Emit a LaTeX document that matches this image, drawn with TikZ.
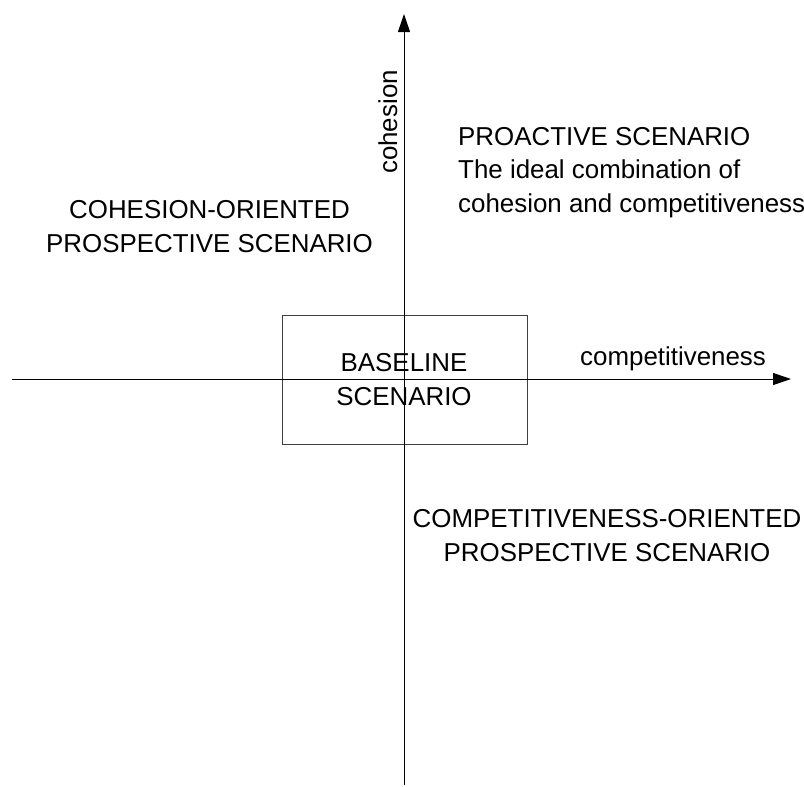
\documentclass[tikz,border=0pt]{standalone}
\usepackage{fontspec}
\setmainfont{Liberation Sans}
\usetikzlibrary{arrows.meta}
\tikzset{
  axis/.style={line width=1pt, black, -{Triangle[length=18pt,width=12pt]}},
  basebox/.style={draw=black!75, line width=1pt, fill=none},
  lbl/.style={inner sep=0pt, font=\fontsize{25.9}{33.5}\selectfont},
}
\begin{document}
\begin{tikzpicture}[x=1pt,y=1pt]
\useasboundingbox (0,0) rectangle (804,-787);
\coordinate (ybot) at (404,-785);
\coordinate (ytop) at (404,-14);
\coordinate (xleft) at (12,-379);
\coordinate (xright) at (791,-379);
\node[basebox, minimum width=245pt, minimum height=129pt, inner sep=0pt] (base) at (404.5,-379.5) {};
\draw[axis] (ybot) -- (ytop);
\draw[axis] (xleft) -- (xright);
\node[lbl, anchor=base, align=center] (baselbl) at (404,-405) {BASELINE\\SCENARIO};
\node[lbl, anchor=base, rotate=90] (coh) at (397,-122) {cohesion};
\node[lbl, anchor=base west] (comp) at (580,-365) {competitiveness};
\node[lbl, anchor=base west, align=left] (pro) at (458,-212) {PROACTIVE SCENARIO\\The ideal combination of\\cohesion and competitiveness};
\node[lbl, anchor=base, align=center] (cohor) at (209.5,-252) {COHESION-ORIENTED\\PROSPECTIVE SCENARIO};
\node[lbl, anchor=base, align=center] (compor) at (607,-561) {COMPETITIVENESS-ORIENTED\\PROSPECTIVE SCENARIO};
\end{tikzpicture}
\end{document}
